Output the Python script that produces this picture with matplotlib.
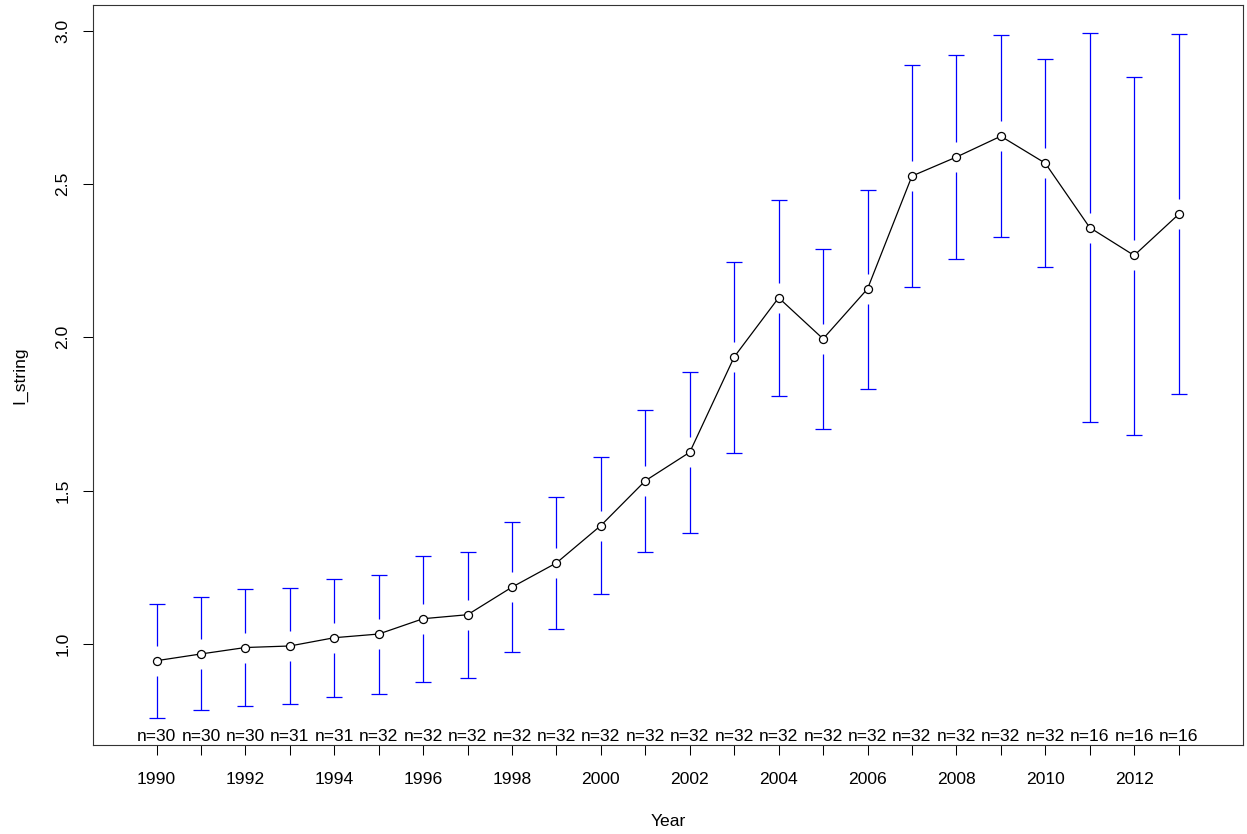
import matplotlib
matplotlib.use("Agg")
import matplotlib.pyplot as plt
import numpy as np

plt.rcParams['font.family'] = ['Liberation Sans', 'DejaVu Sans']

years = list(range(1990, 2014))
means = [0.945, 0.967, 0.988, 0.993, 1.020, 1.032, 1.082, 1.095, 1.185, 1.264,
         1.386, 1.532, 1.625, 1.936, 2.129, 1.995, 2.158, 2.526, 2.588, 2.656,
         2.568, 2.358, 2.267, 2.401]
upper = [1.131, 1.152, 1.179, 1.183, 1.212, 1.224, 1.287, 1.300, 1.396, 1.479,
         1.608, 1.763, 1.887, 2.246, 2.449, 2.289, 2.482, 2.888, 2.920, 2.985,
         2.907, 2.993, 2.850, 2.988]
lower = [0.759, 0.784, 0.798, 0.804, 0.828, 0.838, 0.875, 0.889, 0.972, 1.049,
         1.164, 1.300, 1.363, 1.622, 1.809, 1.701, 1.832, 2.164, 2.254, 2.328,
         2.229, 1.723, 1.682, 1.815]
counts = [30, 30, 30, 31, 31, 32, 32, 32, 32, 32, 32, 32, 32, 32, 32, 32, 32,
          32, 32, 32, 32, 16, 16, 16]
ytick_vals = [1.0, 1.5, 2.0, 2.5, 3.0]
ytick_labels = ["1.0", "1.5", "2.0", "2.5", "3.0"]
xlabel = "Year"
ylabel = "I_string"

W, H, DPI = 1247, 834, 100
FS = 12.6
fig = plt.figure(figsize=(W / DPI, H / DPI), dpi=DPI)
ax = fig.add_axes([93 / W, 1 - 745 / H, (1243 - 93) / W, (745 - 5) / H])

ylim = (0.670, 3.084)
xlim = (1988.57, 2014.45)
ax.set_xlim(*xlim)
ax.set_ylim(*ylim)

# pixel gap around points for the error bars
ax_h_px = (745 - 5)
gap = 15 / (ax_h_px / (ylim[1] - ylim[0]))

x = np.array(years, dtype=float)
m = np.array(means)
u = np.array(upper)
l = np.array(lower)

blue = (0, 0, 1)
ax.vlines(x, m + gap, u, color=blue, lw=0.9, zorder=2)
ax.vlines(x, l, m - gap, color=blue, lw=0.9, zorder=2)
ax.plot(x, u, linestyle='none', marker='_', markersize=11.5, mew=0.9, color=blue, zorder=2)
ax.plot(x, l, linestyle='none', marker='_', markersize=11.5, mew=0.9, color=blue, zorder=2)

ax.plot(x, m, color='black', lw=0.9, zorder=3)
ax.plot(x, m, linestyle='none', marker='o', markersize=5.8, mfc='white', mec='black',
        mew=0.9, zorder=4)

for xi, n in zip(years, counts):
    ax.text(xi, ylim[0] + 0.004, f"n={n}", ha='center', va='bottom', fontsize=FS, zorder=5)

ax.set_xticks(years)
ax.set_xticklabels([str(y) if y % 2 == 0 else "" for y in years], fontsize=FS)
ax.set_yticks(ytick_vals)
ax.set_yticklabels(ytick_labels, fontsize=FS, rotation=90, va='center')

ax.tick_params(axis='x', direction='out', length=7.2, width=0.75, pad=12.5)
ax.tick_params(axis='y', direction='out', length=7.2, width=0.75, pad=9)

for s in ax.spines.values():
    s.set_linewidth(0.8)
    s.set_color('#333333')

fig.text(668 / W, 1 - 822 / H, xlabel, ha='center', va='center', fontsize=FS)
fig.text(20 / W, 1 - 375 / H, ylabel, ha='center', va='center', fontsize=FS, rotation=90)

fig.savefig("out.png", dpi=DPI)
